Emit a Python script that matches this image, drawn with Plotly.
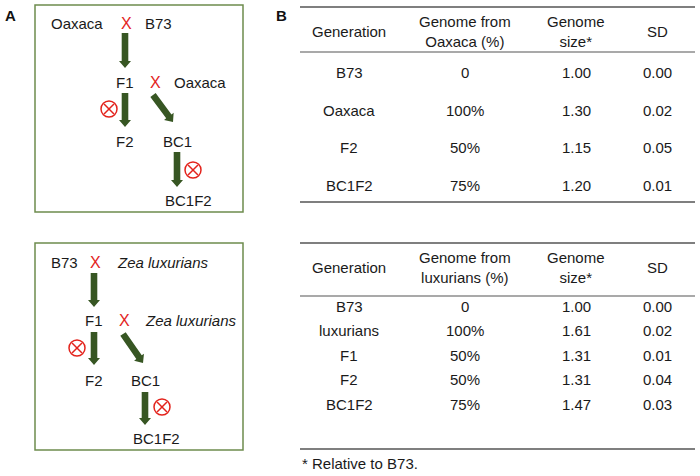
import math
import plotly.graph_objects as go

# ---------------- data ----------------
top_gen = ["B73", "Oaxaca", "F2", "BC1F2"]
top_pct = ["0", "100%", "50%", "75%"]
top_size = [1.00, 1.30, 1.15, 1.20]
top_sd = [0.00, 0.02, 0.05, 0.01]
top_header = ["Generation", "Genome from<br>Oaxaca (%)", "Genome<br>size*", "SD"]

bot_gen = ["B73", "luxurians", "F1", "F2", "BC1F2"]
bot_pct = ["0", "100%", "50%", "50%", "75%"]
bot_size = [1.00, 1.61, 1.31, 1.31, 1.47]
bot_sd = [0.00, 0.02, 0.01, 0.04, 0.03]
bot_header = ["Generation", "Genome from<br>luxurians (%)", "Genome<br>size*", "SD"]

footnote = "* Relative to B73."

# cross diagram labels
top_cross_labels = ["Oaxaca", "B73", "F1", "Oaxaca", "F2", "BC1", "BC1F2"]
bot_cross_labels = ["B73", "<i>Zea luxurians</i>", "F1", "<i>Zea luxurians</i>", "F2", "BC1", "BC1F2"]

# ---------------- layout / style ----------------
FONT = "Arial, Liberation Sans, Helvetica, sans-serif"
TXT = "#1a1a1a"
RED = "#e3231c"
GREEN = "#375623"
BOX = "#6e8c4e"
LINE = "#555555"
FS = 15

W, H = 700, 476

shapes = []
annotations = []


def text(x, y, s, size=FS, color=TXT, xanchor="center", bold=False):
    if bold:
        s = "<b>" + s + "</b>"
    annotations.append(dict(x=x, y=y, xref="x", yref="y", text=s, showarrow=False,
                            xanchor=xanchor, yanchor="middle",
                            font=dict(family=FONT, size=size, color=color)))


def arrow(x0, y0, x1, y1, sw=3.3, hw=6.0, hl=7.0):
    dx, dy = x1 - x0, y1 - y0
    L = math.hypot(dx, dy)
    ux, uy = dx / L, dy / L
    px, py = -uy, ux
    bx, by = x1 - ux * hl, y1 - uy * hl
    pts = [
        (x0 + px * sw, y0 + py * sw),
        (bx + px * sw, by + py * sw),
        (bx + px * hw, by + py * hw),
        (x1, y1),
        (bx - px * hw, by - py * hw),
        (bx - px * sw, by - py * sw),
        (x0 - px * sw, y0 - py * sw),
    ]
    path = "M " + " L ".join(f"{a:.2f},{b:.2f}" for a, b in pts) + " Z"
    shapes.append(dict(type="path", path=path, xref="x", yref="y",
                       fillcolor=GREEN, line=dict(width=0)))


def selfing(cx, cy, r=8.0):
    shapes.append(dict(type="circle", xref="x", yref="y", x0=cx - r, x1=cx + r,
                       y0=cy - r, y1=cy + r, line=dict(color=RED, width=1.5)))
    d = r * 0.62
    for sgn in (1, -1):
        shapes.append(dict(type="line", xref="x", yref="y", x0=cx - d, x1=cx + d,
                           y0=cy - sgn * d, y1=cy + sgn * d,
                           line=dict(color=RED, width=1.5)))


def cross(x, y):
    text(x, y, "X", size=16, color=RED)


def box(x0, y0, x1, y1):
    shapes.append(dict(type="rect", xref="x", yref="y", x0=x0, x1=x1, y0=y0, y1=y1,
                       line=dict(color=BOX, width=1.5)))


# ---------- Panel labels ----------
text(10, 15, "A", size=15, color="#111", bold=True)
text(281, 15, "B", size=15, color="#111", bold=True)

# top cross diagram
box(35, 5, 243, 212)
tl = top_cross_labels
text(77, 23, tl[0]); cross(126, 23); text(158, 23, tl[1])
arrow(125, 33, 125, 68)
text(125, 82, tl[2]); cross(155, 82); text(200, 82, tl[3])
arrow(125, 93, 125, 127)
selfing(109, 109)
arrow(153, 95, 173, 122)
text(125, 141, tl[4]); text(177, 141, tl[5])
arrow(177, 152, 177, 187)
selfing(193, 170)
text(188, 200, tl[6])

# bottom cross diagram
box(35, 243, 243, 450)
bl = bot_cross_labels
text(64, 262, bl[0]); cross(95, 262); text(115, 262, bl[1], xanchor="left")
arrow(94, 273, 94, 307)
text(94, 320, bl[2]); cross(124, 320); text(143, 320, bl[3], xanchor="left")
arrow(94, 332, 94, 365)
selfing(77, 348)
arrow(123, 334, 143, 363)
text(94, 380, bl[4]); text(145, 380, bl[5])
arrow(145, 392, 145, 425)
selfing(162, 407)
text(156, 438, bl[6])

# ---------- Panel B tables ----------
COLS = [349, 465, 576, 657]
TX0, TX1 = 300, 695


def hline(y, w=1.5):
    shapes.append(dict(type="line", xref="x", yref="y", x0=TX0, x1=TX1, y0=y, y1=y,
                       line=dict(color=LINE, width=w)))


def table(header, gen, pct, size, sd, y_top, y_head_line, y_head, rows_y, y_bottom):
    hline(y_top)
    hline(y_head_line, 1.2)
    hline(y_bottom)
    for c, h in zip(COLS, header):
        text(c, y_head, h)
    for i, y in enumerate(rows_y):
        text(COLS[0], y, gen[i])
        text(COLS[1], y, pct[i])
        text(COLS[2], y, f"{size[i]:.2f}")
        text(COLS[3], y, f"{sd[i]:.2f}")


table(top_header, top_gen, top_pct, top_size, top_sd,
      7, 52, 31, [72, 110, 147, 185], 202)
table(bot_header, bot_gen, bot_pct, bot_size, bot_sd,
      243, 296, 267, [306, 330.5, 355, 379.5, 404], 449)
text(300, 463, footnote, xanchor="left")

fig = go.Figure()
fig.add_trace(go.Scatter(x=[0, W], y=[0, H], mode="markers",
                         marker=dict(opacity=0), hoverinfo="skip", showlegend=False))
fig.update_layout(
    width=W, height=H,
    margin=dict(l=0, r=0, t=0, b=0),
    paper_bgcolor="white", plot_bgcolor="white",
    xaxis=dict(range=[0, W], visible=False, fixedrange=True),
    yaxis=dict(range=[H, 0], visible=False, fixedrange=True),
    shapes=shapes, annotations=annotations, showlegend=False,
)
fig.write_html("out.html", config={"displayModeBar": False},
               post_script="document.body.style.margin='0px';document.body.style.overflow='hidden';")
